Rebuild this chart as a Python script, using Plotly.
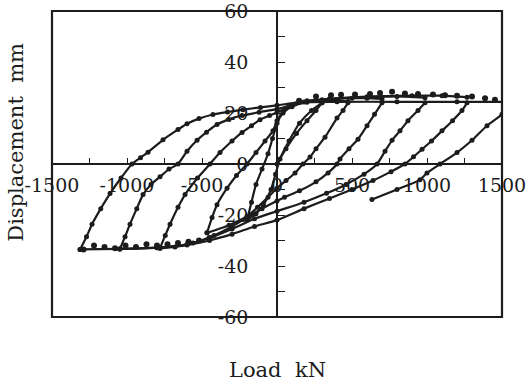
import plotly.graph_objects as go

# ---- data: load (kN) vs displacement (mm) ----
l1_load_x = [0, 60, 130, 200, 260, 300]
l1_load_y = [0, 6, 12, 17, 21, 24]
l1_unload_x = [300, 230, 150, 80, 20, -10, -40, -90, -140, -200]
l1_unload_y = [24, 21, 16, 9, 2, -4, -10, -16, -19.5, -22]
l1_reload_x = [-200, -170, -140, -100, -60, -30, 0, 40, 100, 200, 300, 400, 473]
l1_reload_y = [-22, -15, -8, -2, 4, 10, 16, 20, 22.5, 24.2, 24.8, 25, 24.5]

l2_unload_x = [473, 440, 400, 320, 260, 220, 173, 120, 60, 0, -60, -130, -200, -320, -467]
l2_unload_y = [24, 21, 18, 10.5, 6, 2.7, 0, -3.5, -6.5, -9.5, -13, -17, -20.5, -24, -27]
l2_reload_x = [-467, -433, -400, -333, -270, -200, -140, -80, -27, 0, 40, 100, 200, 350, 500, 600, 700]
l2_reload_y = [-27, -21, -16, -9.5, -4.5, 0, 4.5, 9, 13, 17, 20.5, 23, 24.8, 25.5, 25.8, 25.8, 25.5]

l3_unload_x = [700, 650, 600, 540, 480, 420, 400, 340, 260, 150, 50, 0, -100, -200, -300, -420, -560, -680, -780]
l3_unload_y = [24, 19.5, 15, 9.7, 6, 2, 0, -3.5, -7, -10.5, -13, -14.5, -17.5, -21, -24.5, -28, -31, -32.5, -33]
l3_reload_x = [-780, -745, -713, -660, -613, -530, -447, -380, -300, -233, -170, -113, -50, 0, 80, 180, 350, 600, 800, 987]
l3_reload_y = [-33, -28, -23.6, -17, -12, -5.5, 0, 4.5, 9, 12.4, 15, 17.4, 19, 20.2, 22.5, 24.3, 25.5, 26.2, 26.5, 26]

l4_unload_x = [987, 940, 873, 820, 767, 720, 667, 580, 460, 330, 180, 0, -150, -300, -450, -600, -800, -1047]
l4_unload_y = [24, 21, 17, 13, 9.3, 5, 0, -4, -8, -11.5, -15, -18.5, -21.5, -25.5, -29, -31.5, -32.8, -33.3]
l4_reload_x = [-1047, -1013, -980, -935, -893, -840, -780, -720, -660, -600, -533, -470, -400, -320, -233, -120, 0, 120, 300, 600, 900, 1100, 1267]
l4_reload_y = [-33.3, -28.5, -23.6, -17.5, -12, -8, -5, -2, 0, 5, 9.3, 12.5, 15.5, 17.5, 19, 20.3, 21.5, 23.5, 25.2, 26.4, 26.8, 26.8, 26.2]

l5_unload_x = [1267, 1233, 1170, 1100, 1030, 967, 910, 853, 760, 640, 500, 350, 180, 0, -150, -300, -450, -600, -800, -1050, -1313]
l5_unload_y = [24, 21, 17, 13, 9, 5.8, 2.8, 0, -3, -6.5, -10, -13.5, -17.5, -22, -24.5, -27.5, -30, -31.8, -32.8, -33.3, -33.5]
l5_reload_x = [-1313, -1270, -1233, -1175, -1113, -1040, -967, -910, -860, -760, -660, -600, -520, -427, -330, -227, -110, 0, 150, 400, 800, 1200, 1565]
l5_reload_y = [-33.5, -28.5, -23.6, -17.5, -11.6, -5.5, 0, 2.5, 4.6, 9.5, 13.5, 15.8, 17.8, 19.4, 20.4, 21.3, 22.2, 23, 24.2, 24.4, 24.4, 24.4, 24.4]

l6_unload_x = [1565, 1500, 1400, 1300, 1200, 1087, 1000, 953, 800, 633]
l6_unload_y = [24.4, 19.5, 15, 9.3, 4.5, 0, -3.5, -6.2, -10, -13.9]

top_pts_x = [147, 260, 360, 427, 520, 620, 687, 767, 853, 940, 1040, 1120, 1200, 1300, 1387, 1453]
top_pts_y = [24.8, 26.5, 27, 27.2, 27.3, 27.5, 27.8, 28.3, 27.6, 27.5, 27.3, 27, 26.8, 26.5, 25.8, 25.2]
bot_pts_x = [-1290, -1220, -1150, -1080, -1010, -940, -870, -800, -730, -660, -590, -520, -450]
bot_pts_y = [-33.5, -32, -32.5, -33, -32, -32.5, -31.5, -32, -31.5, -31, -30.5, -30, -29]

x_ticks = [-1500, -1000, -500, 0, 500, 1000, 1500]
y_ticks = [-60, -40, -20, 0, 20, 40, 60]

branches = [
    (l1_load_x, l1_load_y), (l1_unload_x, l1_unload_y), (l1_reload_x, l1_reload_y),
    (l2_unload_x, l2_unload_y), (l2_reload_x, l2_reload_y),
    (l3_unload_x, l3_unload_y), (l3_reload_x, l3_reload_y),
    (l4_unload_x, l4_unload_y), (l4_reload_x, l4_reload_y),
    (l5_unload_x, l5_unload_y), (l5_reload_x, l5_reload_y),
    (l6_unload_x, l6_unload_y),
]

INK = "#1c1c1c"
fig = go.Figure()
for bx, by in branches:
    fig.add_trace(go.Scatter(
        x=bx, y=by, mode="lines+markers",
        line=dict(color=INK, width=2.2, shape="spline", smoothing=0.6),
        marker=dict(color=INK, size=5),
        showlegend=False, hoverinfo="skip"))
for px, py in [(top_pts_x, top_pts_y), (bot_pts_x, bot_pts_y)]:
    fig.add_trace(go.Scatter(
        x=px, y=py, mode="markers",
        marker=dict(color=INK, size=6),
        showlegend=False, hoverinfo="skip"))

tickfont = dict(family="DejaVu Serif", size=19, color=INK)
fig.update_xaxes(
    range=[-1500, 1500], anchor="free", position=0.5, automargin=False,
    showline=True, linecolor=INK, linewidth=1.5,
    tickmode="array", tickvals=x_ticks, ticktext=[str(v) for v in x_ticks],
    ticks="inside", ticklen=5, tickcolor=INK, tickwidth=1.2,
    minor=dict(dtick=250, tick0=0, ticks="inside", ticklen=5, tickcolor=INK, tickwidth=1.2),
    tickfont=tickfont, ticklabelstandoff=4, ticklabeloverflow="allow",
    showgrid=False, zeroline=False)
fig.update_yaxes(
    range=[-60, 60], anchor="free", position=0.5, automargin=False,
    showline=True, linecolor=INK, linewidth=1.5,
    tickmode="array", tickvals=y_ticks, ticktext=[str(v) for v in y_ticks],
    ticks="inside", ticklen=7, tickcolor=INK, tickwidth=1.2,
    minor=dict(dtick=10, tick0=0, ticks="inside", ticklen=7, tickcolor=INK, tickwidth=1.2),
    tickfont=tickfont, ticklabelstandoff=24, ticklabeloverflow="allow",
    showgrid=False, zeroline=False)

fig.add_shape(type="rect", xref="paper", yref="paper", x0=0, y0=0, x1=1, y1=1,
              line=dict(color=INK, width=2.2), layer="above")

titlefont = dict(family="DejaVu Serif", size=21, color=INK)
fig.add_annotation(text="Load  kN", xref="paper", yref="paper", x=0.5, y=-0.172,
                   showarrow=False, font=titlefont, xanchor="center", yanchor="middle")
fig.add_annotation(text="Displacement  mm", xref="paper", yref="paper", x=-0.082, y=0.57,
                   showarrow=False, font=titlefont, textangle=-90,
                   xanchor="center", yanchor="middle")

fig.update_layout(
    width=532, height=391,
    margin=dict(l=52, r=30, t=11, b=74, autoexpand=False),
    paper_bgcolor="white", plot_bgcolor="white",
    showlegend=False)

fig.write_html("out.html")
